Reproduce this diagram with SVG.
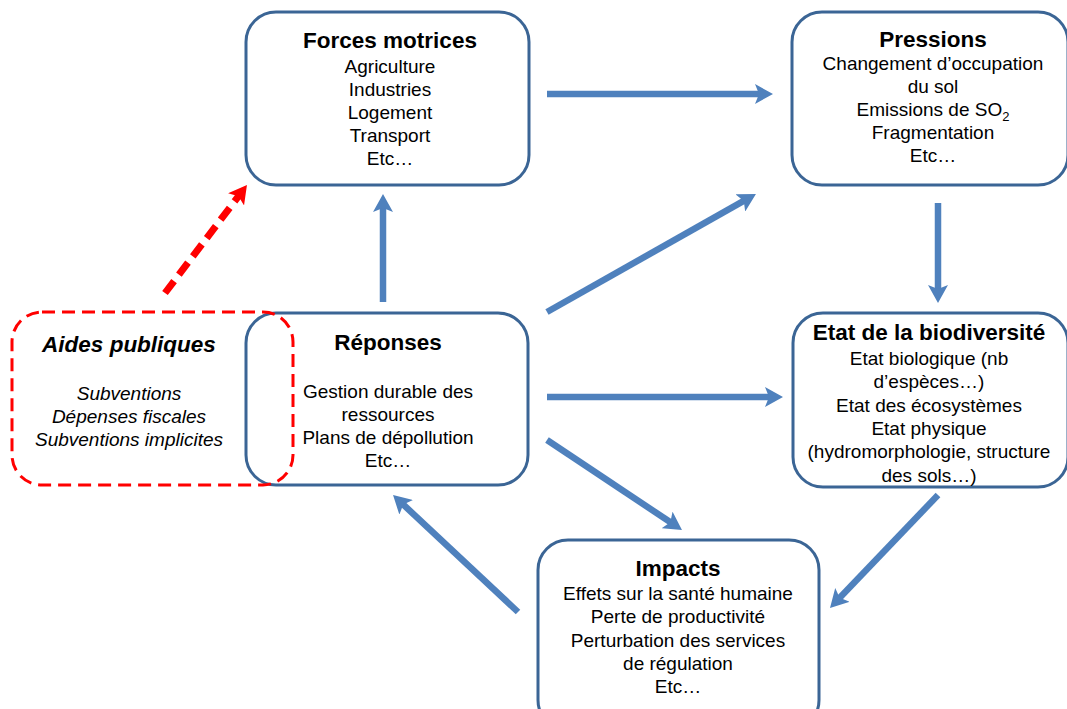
<svg xmlns="http://www.w3.org/2000/svg" width="1067" height="709" viewBox="0 0 1067 709">
<style>
.box{fill:#fff;stroke:#3B6595;stroke-width:3}
.dash{fill:none;stroke:#FF0000;stroke-width:3;stroke-dasharray:13 7}
.t{font-family:"Liberation Sans",Arial,sans-serif;font-size:19px;fill:#000;text-anchor:middle}
.h{font-weight:bold;font-size:22.5px}
.i{font-style:italic}
.c{stroke:#4F81BD;stroke-width:6.5;fill:none;marker-end:url(#ah)}
.r{stroke:#FF0000;stroke-width:7;fill:none;stroke-dasharray:15 8;marker-end:url(#ahr)}
</style>
<defs>
<marker id="ah" markerUnits="userSpaceOnUse" markerWidth="18" markerHeight="20" viewBox="0 0 18 20" refX="6" refY="10" orient="auto">
<path d="M0,0 L18,10 L0,20 L4,10 z" fill="#4F81BD"/>
</marker>
<marker id="ahr" markerUnits="userSpaceOnUse" markerWidth="18" markerHeight="20" viewBox="0 0 18 20" refX="6" refY="10" orient="auto">
<path d="M0,0 L18,10 L0,20 L4,10 z" fill="#FF0000"/>
</marker>
</defs>
<rect width="1067" height="709" fill="#fff"/>

<g id="forces">
<rect class="box" x="246" y="12" width="283" height="173" rx="30"/>
<text class="t h" x="390" y="48">Forces motrices</text>
<text class="t" x="390" y="73">Agriculture</text>
<text class="t" x="390" y="96">Industries</text>
<text class="t" x="390" y="119">Logement</text>
<text class="t" x="390" y="142">Transport</text>
<text class="t" x="390" y="165">Etc…</text>
</g>

<g id="pressions">
<rect class="box" x="792" y="12" width="276" height="173" rx="30"/>
<text class="t h" x="933" y="47">Pressions</text>
<text class="t" x="933" y="70">Changement d’occupation</text>
<text class="t" x="933" y="93">du sol</text>
<text class="t" x="933" y="116">Emissions de SO<tspan font-size="13" dy="5">2</tspan></text>
<text class="t" x="933" y="139">Fragmentation</text>
<text class="t" x="933" y="162">Etc…</text>
</g>

<g id="etat">
<rect class="box" x="793" y="313" width="275" height="174" rx="30"/>
<text class="t h" x="929" y="340">Etat de la biodiversité</text>
<text class="t" x="929" y="365">Etat biologique (nb</text>
<text class="t" x="929" y="388">d’espèces…)</text>
<text class="t" x="929" y="412">Etat des écosystèmes</text>
<text class="t" x="929" y="435">Etat physique</text>
<text class="t" x="929" y="458">(hydromorphologie, structure</text>
<text class="t" x="929" y="482">des sols…)</text>
</g>

<g id="impacts">
<rect class="box" x="538" y="540" width="281" height="190" rx="30"/>
<text class="t h" x="678" y="576">Impacts</text>
<text class="t" x="678" y="600">Effets sur la santé humaine</text>
<text class="t" x="678" y="623">Perte de productivité</text>
<text class="t" x="678" y="647">Perturbation des services</text>
<text class="t" x="678" y="670">de régulation</text>
<text class="t" x="678" y="693">Etc…</text>
</g>

<g id="reponses">
<rect class="box" x="246" y="313" width="282" height="172" rx="30"/>
<text class="t h" x="388" y="350">Réponses</text>
<text class="t" x="388" y="398">Gestion durable des</text>
<text class="t" x="388" y="421">ressources</text>
<text class="t" x="388" y="444">Plans de dépollution</text>
<text class="t" x="388" y="467">Etc…</text>
</g>

<g id="aides">
<rect class="dash" x="12" y="312" width="281" height="173" rx="30"/>
<text class="t h i" x="129" y="352">Aides publiques</text>
<text class="t i" x="129" y="400">Subventions</text>
<text class="t i" x="129" y="423">Dépenses fiscales</text>
<text class="t i" x="129" y="446">Subventions implicites</text>
</g>

<g id="connectors">
<line class="c" x1="547" y1="94" x2="761" y2="94"/>
<line class="c" x1="383" y1="302" x2="383" y2="206"/>
<line class="c" x1="547" y1="312" x2="745.5" y2="199.9"/>
<line class="c" x1="938" y1="203" x2="938" y2="291"/>
<line class="c" x1="547" y1="397" x2="771" y2="397"/>
<line class="c" x1="547" y1="440" x2="672" y2="523.3"/>
<line class="c" x1="938" y1="495" x2="838.3" y2="599.3"/>
<line class="c" x1="518" y1="612" x2="401.8" y2="503.2"/>
<line class="r" x1="165" y1="293" x2="239.7" y2="194.6"/>
</g>
</svg>
